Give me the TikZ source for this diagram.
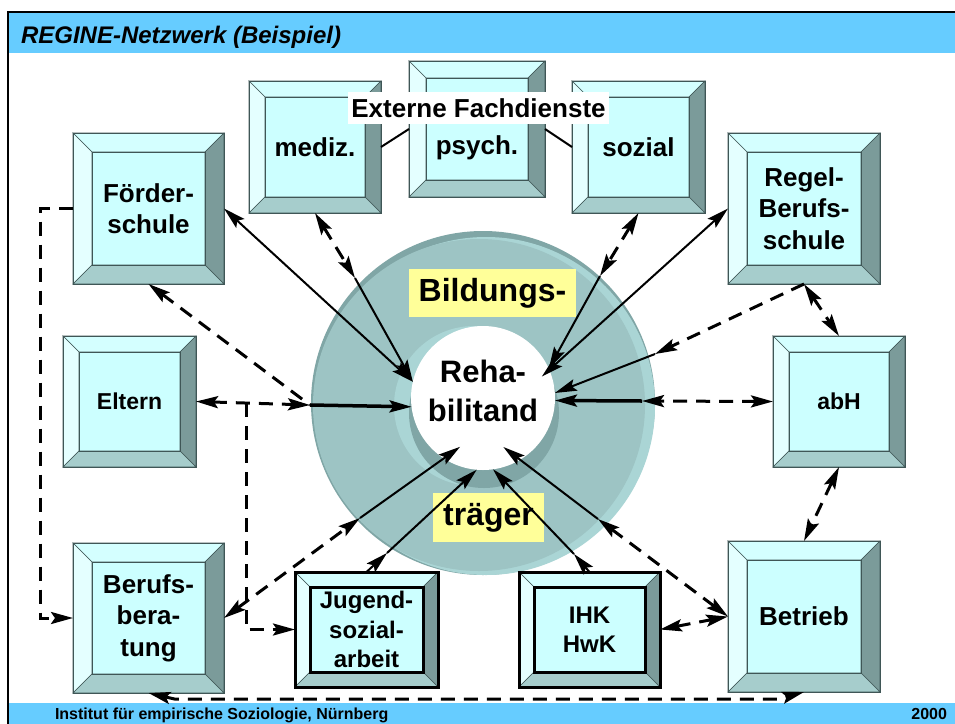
\documentclass[tikz,border=0pt]{standalone}
\usepackage{fontspec}
\setmainfont{Liberation Sans}
\usetikzlibrary{arrows.meta}
\definecolor{titelblau}{HTML}{66CCFF}
\definecolor{flaeche}{HTML}{CCFFFF}
\definecolor{oben}{HTML}{D4FFFF}
\definecolor{hell}{HTML}{E4FFFF}
\definecolor{dunkel}{HTML}{7B9B9A}
\definecolor{unten}{HTML}{A6CDCC}
\definecolor{rand}{HTML}{3F5656}
\definecolor{ring}{HTML}{9DC4C4}
\definecolor{ringhell}{HTML}{AAD5D5}
\definecolor{ringdunkel}{HTML}{80A6A6}
\definecolor{gelb}{HTML}{FFFF99}
\begin{document}
\begin{tikzpicture}
  [x=1pt,y=-1pt,>={Stealth[length=22pt,width=12pt,inset=4pt]},
   every node/.style={font=\bfseries,align=center,inner sep=0pt,outer sep=0pt}]
  \tikzstyle{knopf} = [rectangle,fill=flaeche,draw=rand,line width=1pt,font=\fontsize{26}{31.5}\selectfont\bfseries]
  \tikzstyle{klein} = [font=\fontsize{23}{28}\selectfont\bfseries]
  \tikzstyle{eng} = [draw=black,line width=3pt,font=\fontsize{24}{29.5}\selectfont\bfseries]
  \tikzstyle{gelbfeld} = [fill=gelb,font=\fontsize{32}{38}\selectfont\bfseries]
  \tikzstyle{voll} = [line width=2pt]
  \tikzstyle{dick} = [line width=3.5pt]
  \tikzstyle{strich} = [line width=3pt,dash pattern=on 14pt off 9pt]
  \useasboundingbox (0,0) rectangle (955,723);
  \fill[white] (0,0) rectangle (955,723);
  \fill[titelblau] (8,12) rectangle (960,53);
  \fill[titelblau] (8,703) rectangle (960,730);
  \draw[line width=2pt] (8,740) -- (8,12) -- (960,12);
  \node[anchor=base west,font=\fontsize{24}{28}\selectfont\bfseries\itshape] (titel) at (21,43) {REGINE-Netzwerk (Beispiel)};
  \node[anchor=base west,font=\fontsize{16}{19}\selectfont\bfseries] (institut) at (55,719) {Institut für empirische Soziologie, Nürnberg};
  \node[anchor=base east,font=\fontsize{16}{19}\selectfont\bfseries] (jahr) at (947,719) {2000};

  \fill[ringdunkel] (483,403) circle (172pt);
  \fill[ringhell] (486,406) circle (169pt);
  \fill[ring] (479,405) circle (166pt);
  \fill[ringhell] (474,406) circle (80pt);
  \fill[ringdunkel] (484,413) circle (75pt);
  \node[circle,fill=white,minimum size=144pt] (reha) at (483,398) {};
  \node[font=\fontsize{31}{39}\selectfont\bfseries] (rehatext) at (483,391) {Reha-\\bilitand};
  \node[gelbfeld,minimum width=167pt,minimum height=48pt] (bildung) at (492.5,293) {Bildungs-};
  \node[gelbfeld,minimum width=111pt,minimum height=49pt] (traeger) at (488.5,517.5) {träger};

  \node[knopf,minimum width=151pt,minimum height=151pt] (foerder) at (148.5,208.5) {Förder-\\schule};
  \node[knopf,minimum width=132pt,minimum height=132pt] (mediz) at (315,147) {mediz.};
  \node[knopf,minimum width=136pt,minimum height=136pt] (psych) at (477,129) {\raisebox{-16pt}[19pt][0pt]{psych.}};
  \node[knopf,minimum width=133pt,minimum height=132pt] (sozial) at (638.5,147) {sozial};
  \node[knopf,minimum width=152pt,minimum height=151pt] (regel) at (804,208.5) {Regel-\\Berufs-\\schule};
  \node[knopf,klein,minimum width=133pt,minimum height=131pt] (eltern) at (129.5,401.5) {Eltern};
  \node[knopf,klein,minimum width=132pt,minimum height=131pt] (abh) at (839,401.5) {abH};
  \node[knopf,minimum width=151pt,minimum height=150pt] (bb) at (148.5,618) {Berufs-\\bera-\\tung};
  \node[knopf,eng,minimum width=143pt,minimum height=115pt] (jugend) at (366.5,629.5) {Jugend-\\sozial-\\arbeit};
  \node[knopf,eng,minimum width=141pt,minimum height=115pt] (ihk) at (589.5,629.5) {IHK\\HwK};
  \node[knopf,minimum width=152pt,minimum height=151pt] (betrieb) at (804,616.5) {Betrieb};

  \foreach \kn/\fb/\rl/\rf in {foerder/19/1/rand,mediz/16/1/rand,psych/17/1/rand,sozial/16/1/rand,regel/19/1/rand,eltern/16/1/rand,abh/16/1/rand,bb/19/1/rand,betrieb/19/1/rand,jugend/15/3/black,ihk/15/3/black} {
    \filldraw[fill=oben,draw=rand,line width=.6pt] (\kn.north west) -- (\kn.north east) -- ([xshift=-\fb pt,yshift=-\fb pt]\kn.north east) -- ([xshift=\fb pt,yshift=-\fb pt]\kn.north west) -- cycle;
    \filldraw[fill=hell,draw=rand,line width=.6pt] (\kn.north west) -- ([xshift=\fb pt,yshift=-\fb pt]\kn.north west) -- ([xshift=\fb pt,yshift=\fb pt]\kn.south west) -- (\kn.south west) -- cycle;
    \filldraw[fill=dunkel,draw=rand,line width=.6pt] (\kn.north east) -- (\kn.south east) -- ([xshift=-\fb pt,yshift=\fb pt]\kn.south east) -- ([xshift=-\fb pt,yshift=-\fb pt]\kn.north east) -- cycle;
    \filldraw[fill=unten,draw=rand,line width=.6pt] (\kn.south west) -- (\kn.south east) -- ([xshift=-\fb pt,yshift=\fb pt]\kn.south east) -- ([xshift=\fb pt,yshift=\fb pt]\kn.south west) -- cycle;
    \draw[draw=\rf,line width=\rl pt] ([xshift=\fb pt,yshift=-\fb pt]\kn.north west) rectangle ([xshift=-\fb pt,yshift=\fb pt]\kn.south east);
    \draw[draw=\rf,line width=\rl pt] (\kn.north west) rectangle (\kn.south east);
  }

  \draw[voll] (mediz.east) -- (psych.west);
  \draw[voll] (psych.east) -- (sozial.west);
  \node[fill=white,font=\fontsize{26}{31}\selectfont\bfseries,inner xsep=3pt,inner ysep=6.5pt] (extern) at (478.5,108) {Externe Fachdienste};

  \coordinate (rMed) at (355,278);
  \coordinate (rSoz) at (600,276);
  \coordinate (rReg) at (655,354);
  \coordinate (rAbh) at (642,401);
  \coordinate (rElt) at (310,405);
  \coordinate (rBb) at (360,518);
  \coordinate (rBet) at (598,519);
  \coordinate (rJug) at (387,553);
  \coordinate (rIhk) at (574,554);
  \coordinate (abzw) at (246,403);

  \foreach \von/\nach in {mediz.south/rMed,sozial.south/rSoz,abh.west/rAbh,eltern.east/rElt,bb.east/rBb,betrieb.west/rBet,regel.south/abh.north,abh.south/betrieb.north,ihk.east/betrieb.west}
    \draw[strich,<->] (\von) -- (\nach);
  \draw[strich,->] (regel.south) -- (rReg);
  \draw[strich,<-] (foerder.south) -- (rElt);
  \draw[strich,->] (abzw) |- (jugend.west);
  \draw[strich,->] (foerder.west) -- ++(-33,0) |- (bb.west);
  \draw[strich,<->] (bb.south) -- ++(26,6) -- ++(603.5,0) -- (betrieb.south);

  \foreach \von/\w/\ext in {rMed/167/0,rSoz/24/0,rReg/4/0,rBb/237/20,rBet/301/21,rJug/265/0,rIhk/278/0}
    \draw[voll,->,shorten >=-\ext pt] (\von) -- (reha.\w);
  \draw[voll,->] (jugend.north) -- (rJug);
  \draw[voll,->] (ihk.north) -- (rIhk);
  \draw[voll,<->] (foerder.east) -- (reha.167);
  \draw[voll,<->,shorten >=-10pt] (regel.west) -- (reha.23);
  \draw[dick,->] (rAbh) -- (reha.358);
  \draw[dick,->] (rElt) -- (reha.187);
\end{tikzpicture}
\end{document}
